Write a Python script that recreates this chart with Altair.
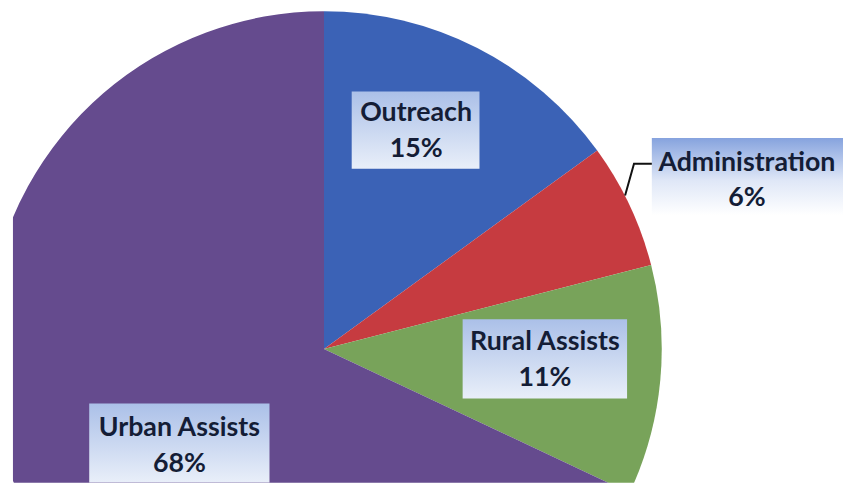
import altair as alt
import pandas as pd

# ---- data ----
categories = ["Outreach", "Administration", "Rural Assists", "Urban Assists"]
shares = [15, 6, 11, 68]
pct_labels = ["15%", "6%", "11%", "68%"]

# ---- style ----
colors = ["#3b62b6", "#c63b40", "#78a35a", "#654b8e"]

# ---- layout (page pixels) ----
OX, OY = 13, 8          # plot origin on page
CX, CY, R = 327, 350, 341
label_cx = [420, 754, 550, 181]
label_y1 = [112, 162, 343, 430]
line_gap = 36
box_x0 = [355, 658, 467, 90]
box_x1 = [484, 851, 633, 272]
box_y0 = [90, 137, 320, 405]
box_y1 = [168, 215, 400, 485]
leader_x = [631, 640, 658]
leader_y = [195, 163, 163]

df = pd.DataFrame({"category": categories, "share": shares, "idx": list(range(len(categories)))})

pie = alt.Chart(df).mark_arc(radius=R, clip=True).encode(
    theta=alt.Theta("share:Q", stack=True),
    color=alt.Color("category:N", scale=alt.Scale(domain=categories, range=colors), legend=None),
    order=alt.Order("idx:Q"),
    x=alt.value(CX - OX),
    y=alt.value(CY - OY),
)

lab = pd.DataFrame({
    "category": categories,
    "pct": pct_labels,
    "tx": [v - OX for v in label_cx],
    "ty1": [v - OY for v in label_y1],
    "ty2": [v - OY + line_gap for v in label_y1],
    "bx0": [v - OX for v in box_x0],
    "bx1": [v - OX for v in box_x1],
    "by0": [v - OY for v in box_y0],
    "by1": [v - OY for v in box_y1],
})

grad_main = alt.LinearGradient(
    gradient="linear", x1=0, x2=0, y1=0, y2=1,
    stops=[alt.GradientStop(color="#abc0e8", offset=0), alt.GradientStop(color="#e9eff9", offset=1)],
)
grad_admin = alt.LinearGradient(
    gradient="linear", x1=0, x2=0, y1=0, y2=1,
    stops=[alt.GradientStop(color="#86a3de", offset=0),
           alt.GradientStop(color="#dfe7f7", offset=0.55),
           alt.GradientStop(color="#ffffff", offset=1)],
)

box_enc = dict(
    x=alt.X("bx0:Q", scale=None), x2="bx1:Q",
    y=alt.Y("by0:Q", scale=None), y2="by1:Q",
)
boxes = alt.Chart(lab).transform_filter(alt.datum.category != "Administration").mark_rect(
    color=grad_main, clip=True).encode(**box_enc)
box_admin = alt.Chart(lab).transform_filter(alt.datum.category == "Administration").mark_rect(
    color=grad_admin, clip=True).encode(**box_enc)

txt_style = dict(font="Lato", fontSize=27, fontWeight="bold", color="#141d36",
                 align="center", baseline="middle")
names = alt.Chart(lab).mark_text(**txt_style).encode(
    x=alt.X("tx:Q", scale=None), y=alt.Y("ty1:Q", scale=None), text="category:N")
pcts = alt.Chart(lab).mark_text(**txt_style).encode(
    x=alt.X("tx:Q", scale=None), y=alt.Y("ty2:Q", scale=None), text="pct:N")

leader_df = pd.DataFrame({"lx": [v - OX for v in leader_x], "ly": [v - OY for v in leader_y],
                          "k": list(range(len(leader_x)))})
leader = alt.Chart(leader_df).mark_line(color="#111111", strokeWidth=2).encode(
    x=alt.X("lx:Q", scale=None), y=alt.Y("ly:Q", scale=None), order="k:Q")

chart = alt.layer(pie, boxes, box_admin, leader, names, pcts).properties(
    width=838, height=477,
    padding={"left": 5, "top": 0, "right": 0, "bottom": 0},
    autosize="none",
    background="white",
).configure_view(stroke=None)

chart.save("out.html", embed_options={"renderer": "svg", "actions": False})
